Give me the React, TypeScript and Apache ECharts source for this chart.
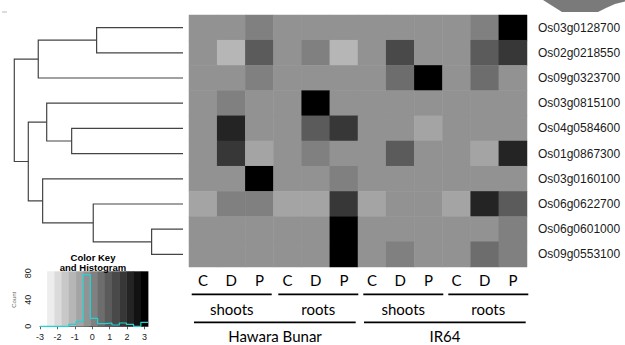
import React, { useEffect, useRef } from "react";
import * as echarts from "echarts";

// ---------- data ----------
const genes = [
  "Os03g0128700",
  "Os02g0218550",
  "Os09g0323700",
  "Os03g0815100",
  "Os04g0584600",
  "Os01g0867300",
  "Os03g0160100",
  "Os06g0622700",
  "Os06g0601000",
  "Os09g0553100",
];
const treatments = ["C", "D", "P"];
const tissues = ["shoots", "roots"];
const cultivars = ["Hawara Bunar", "IR64"];

// row-scaled expression (rows = genes, columns = HB shoots CDP, HB roots CDP, IR64 shoots CDP, IR64 roots CDP)
const expr: number[][] = [
  [-0.32, -0.3, 0.1, -0.33, -0.31, -0.3, -0.32, -0.31, -0.3, -0.33, 0.1, 3.0],
  [-0.31, -1.14, 0.93, -0.3, 0.1, -1.14, -0.31, 1.34, -0.32, -0.3, 0.93, 1.75],
  [-0.3, -0.31, 0.1, -0.32, -0.3, -0.31, -0.33, 0.52, 3.0, -0.31, 0.52, -0.3],
  [-0.31, 0.1, -0.3, -0.32, 3.0, -0.31, -0.3, -0.31, -0.32, -0.3, -0.31, -0.33],
  [-0.33, 2.17, -0.3, -0.31, 0.93, 1.75, -0.32, -0.3, -0.72, -0.31, -0.3, -0.32],
  [-0.3, 1.75, -0.72, -0.31, 0.1, -0.32, -0.3, 0.93, -0.31, -0.33, -0.72, 2.17],
  [-0.31, -0.3, 3.0, -0.32, -0.31, 0.1, -0.3, -0.31, -0.32, -0.3, -0.31, -0.3],
  [-0.72, 0.1, 0.1, -0.72, -0.72, 1.75, -0.72, -0.31, -0.3, -0.72, 2.17, 0.93],
  [-0.3, -0.32, -0.31, -0.3, -0.33, 3.0, -0.31, -0.3, -0.32, -0.31, -0.3, 0.1],
  [-0.31, -0.3, -0.32, -0.31, -0.3, 3.0, -0.33, 0.1, -0.31, -0.3, 0.52, 0.1],
];

// hclust-style merges: negative = leaf (1-based, display order), positive = earlier merge (1-based)
const dendroMerge: [number, number][] = [
  [-1, -2],
  [1, -3],
  [-5, -6],
  [-4, 3],
  [-9, -10],
  [-8, 5],
  [-7, 6],
  [4, 7],
  [2, 8],
];
const dendroHeight = [5.12, 8.58, 6.6, 8.08, 1.86, 5.32, 8.32, 9.17, 10];

// colour key breaks and histogram counts
const keyBreaks = [-3, -2.59, -2.17, -1.76, -1.35, -0.93, -0.52, -0.11, 0.31, 0.72, 1.13, 1.55, 1.96, 2.37, 2.79, 3.2];
const keyCounts = [0, 0, 0, 0, 3, 7, 78, 12, 4, 5, 2, 5, 3, 0, 6];
const keyXTicks = [-3, -2, -1, 0, 1, 2, 3];
const greys = [
  "#ffffff", "#ededed", "#dbdbdb", "#c8c8c8", "#b6b6b6",
  "#a4a4a4", "#929292", "#808080", "#6d6d6d", "#5b5b5b",
  "#494949", "#373737", "#242424", "#121212", "#000000",
];

// ---------- layout constants ----------
const HM = { left: 189, top: 15, width: 338, height: 252 };
const DG = { left: 14.3, top: 15, width: 168.7, height: 252 };
const KEY = { left: 40, top: 273.3, width: 108, height: 53 };

export default function App() {
  const ref = useRef<HTMLDivElement>(null);

  useEffect(() => {
    const chart = echarts.init(ref.current!, null, { renderer: "svg" });

    const colIds: string[] = [];
    const colTreat: string[] = [];
    cultivars.forEach((cu) =>
      tissues.forEach((ti) =>
        treatments.forEach((tr) => {
          colIds.push(`${cu}|${ti}|${tr}`);
          colTreat.push(tr);
        })
      )
    );

    const heatData: [number, number, number][] = [];
    expr.forEach((row, r) => row.forEach((v, c) => heatData.push([c, r, v])));

    // dendrogram links
    const nodes: { y: number; h: number }[] = [];
    const pos = (c: number) => (c < 0 ? { y: -c - 1, h: 0 } : nodes[c - 1]);
    const links: { coords: number[][] }[] = [];
    dendroMerge.forEach(([a, b], m) => {
      const pa = pos(a);
      const pb = pos(b);
      const h = dendroHeight[m];
      nodes.push({ y: (pa.y + pb.y) / 2, h });
      links.push({
        coords: [
          [pa.h, pa.y],
          [h, pa.y],
          [h, pb.y],
          [pb.h, pb.y],
        ],
      });
    });

    const histData: number[][] = keyCounts.map((c, k) => [keyBreaks[k], c]);
    histData.push([keyBreaks[keyBreaks.length - 1], keyCounts[keyCounts.length - 1]]);

    const bandData = keyCounts.map((_, k) => [keyBreaks[k], keyBreaks[k + 1], k]);

    const lblFont = "Lato, 'Open Sans', sans-serif";

    const option: any = {
      animation: false,
      grid: [
        { left: HM.left, top: HM.top, width: HM.width, height: HM.height },
        { left: DG.left, top: DG.top, width: DG.width, height: DG.height },
        { left: KEY.left, top: KEY.top, width: KEY.width, height: KEY.height },
      ],
      xAxis: [
        {
          type: "category",
          gridIndex: 0,
          data: colIds,
          axisLine: { show: false },
          axisTick: { show: false },
          splitLine: { show: false },
          axisLabel: {
            formatter: (_v: string, i: number) => colTreat[i],
            fontFamily: lblFont,
            fontSize: 15,
            color: "#000",
            margin: 5,
          },
        },
        { type: "value", gridIndex: 1, min: 0, max: 10, inverse: true, show: false },
        {
          type: "value",
          gridIndex: 2,
          min: -3,
          max: 3.2,
          splitLine: { show: false },
          axisLine: { show: true, onZero: false, lineStyle: { color: "#333", width: 0.8 } },
          axisTick: { show: true, length: 3, customValues: keyXTicks, lineStyle: { color: "#333", width: 0.8 } },
          axisLabel: {
            customValues: keyXTicks,
            fontFamily: "'Liberation Sans', Arial, sans-serif",
            fontSize: 9,
            color: "#222",
            margin: 6,
          },
        },
      ],
      yAxis: [
        {
          type: "category",
          gridIndex: 0,
          data: genes,
          inverse: true,
          position: "right",
          axisLine: { show: false },
          axisTick: { show: false },
          splitLine: { show: false },
          axisLabel: {
            fontFamily: "'Liberation Sans', Arial, sans-serif",
            fontSize: 12,
            color: "#1a1a1a",
            margin: 11,
          },
        },
        { type: "value", gridIndex: 1, min: -0.5, max: 9.5, inverse: true, show: false },
        {
          type: "value",
          gridIndex: 2,
          min: 0,
          max: 80,
          interval: 20,
          offset: 3,
          splitLine: { show: false },
          axisLine: { show: true, lineStyle: { color: "#333", width: 0.8 } },
          axisTick: { show: true, length: 3, lineStyle: { color: "#333", width: 0.8 } },
          axisLabel: {
            rotate: 90,
            formatter: (v: number) => (v % 40 === 0 ? String(v) : ""),
            fontFamily: "'Liberation Sans', Arial, sans-serif",
            fontSize: 9,
            color: "#222",
            margin: 5,
          },
          name: "Count",
          nameLocation: "middle",
          nameRotate: 90,
          nameGap: 20,
          nameTextStyle: { fontSize: 6, color: "#666", fontFamily: "'Liberation Sans', Arial, sans-serif" },
        },
      ],
      visualMap: {
        type: "piecewise",
        show: false,
        seriesIndex: 0,
        dimension: 2,
        pieces: greys.map((c, k) =>
          k === greys.length - 1
            ? { gte: keyBreaks[k], lte: keyBreaks[k + 1] + 10, color: c }
            : { gte: keyBreaks[k], lt: keyBreaks[k + 1], color: c }
        ),
      },
      series: [
        {
          type: "heatmap",
          xAxisIndex: 0,
          yAxisIndex: 0,
          data: heatData,
          itemStyle: { borderWidth: 0 },
          emphasis: { disabled: true },
          silent: true,
        },
        {
          type: "lines",
          coordinateSystem: "cartesian2d",
          xAxisIndex: 1,
          yAxisIndex: 1,
          polyline: true,
          silent: true,
          lineStyle: { color: "#444", width: 1.2, opacity: 1 },
          data: links,
        },
        {
          type: "custom",
          xAxisIndex: 2,
          yAxisIndex: 2,
          clip: false,
          silent: true,
          encode: { x: [0, 1] },
          data: bandData,
          renderItem: (_p: any, api: any) => {
            const p0 = api.coord([api.value(0), 83]);
            const p1 = api.coord([api.value(1), 0]);
            return {
              type: "rect",
              shape: { x: p0[0], y: p0[1], width: p1[0] - p0[0] + 0.4, height: p1[1] - p0[1] },
              style: { fill: greys[api.value(2)] },
            };
          },
          z: 1,
        },
        {
          type: "line",
          xAxisIndex: 2,
          yAxisIndex: 2,
          step: "end",
          symbol: "none",
          silent: true,
          data: histData,
          lineStyle: { color: "#22d3d3", width: 1.2 },
          z: 3,
        },
      ],
      graphic: [
        // tissue brackets
        ...[
          [191.7, 271.7],
          [278.3, 358.3],
          [363.3, 443.3],
          [448.3, 528.3],
        ].map(([x1, x2]) => ({
          type: "line",
          shape: { x1, y1: 294.3, x2, y2: 294.3 },
          style: { stroke: "#000", lineWidth: 1.8 },
          silent: true,
        })),
        ...[
          [194, 355.7],
          [364, 525.7],
        ].map(([x1, x2]) => ({
          type: "line",
          shape: { x1, y1: 322.3, x2, y2: 322.3 },
          style: { stroke: "#000", lineWidth: 1.8 },
          silent: true,
        })),
        ...[231.7, 318.3, 403.3, 488.3].map((x, i) => ({
          type: "text",
          x,
          y: 309,
          style: {
            text: tissues[i % 2],
            fontFamily: lblFont,
            fontSize: 15,
            fill: "#000",
            align: "center",
            verticalAlign: "middle",
          },
          silent: true,
        })),
        ...[275, 445].map((x, i) => ({
          type: "text",
          x,
          y: 336,
          style: {
            text: cultivars[i],
            fontFamily: lblFont,
            fontSize: 15,
            fill: "#000",
            align: "center",
            verticalAlign: "middle",
          },
          silent: true,
        })),
        // colour key title
        {
          type: "text",
          x: 93,
          y: 257.5,
          style: {
            text: "Color Key",
            fontFamily: "'Liberation Sans', Arial, sans-serif",
            fontWeight: "bold",
            fontSize: 9.5,
            fill: "#000",
            align: "center",
            verticalAlign: "middle",
          },
          silent: true,
        },
        {
          type: "text",
          x: 93,
          y: 267.3,
          z: 10,
          style: {
            text: "and Histogram",
            fontFamily: "'Liberation Sans', Arial, sans-serif",
            fontWeight: "bold",
            fontSize: 9.5,
            fill: "#000",
            align: "center",
            verticalAlign: "middle",
          },
          silent: true,
        },
        // decorative page-corner shape (top right)
        {
          type: "polygon",
          shape: {
            points: [
              [543, 0],
              [562, 12],
              [598, 12],
              [606, 8],
              [615, 4],
              [625, 1.5],
              [625, 0],
            ],
          },
          style: { fill: "#7a7a7a" },
          silent: true,
        },
        {
          type: "line",
          shape: { x1: 2, y1: 12, x2: 7, y2: 12 },
          style: { stroke: "#bbb", lineWidth: 1 },
          silent: true,
        },
      ],
    };

    chart.setOption(option);
    return () => chart.dispose();
  }, []);

  return (
    <div
      ref={ref}
      style={{ position: "fixed", left: 0, top: 0, width: 625, height: 345, background: "#fff" }}
    />
  );
}
